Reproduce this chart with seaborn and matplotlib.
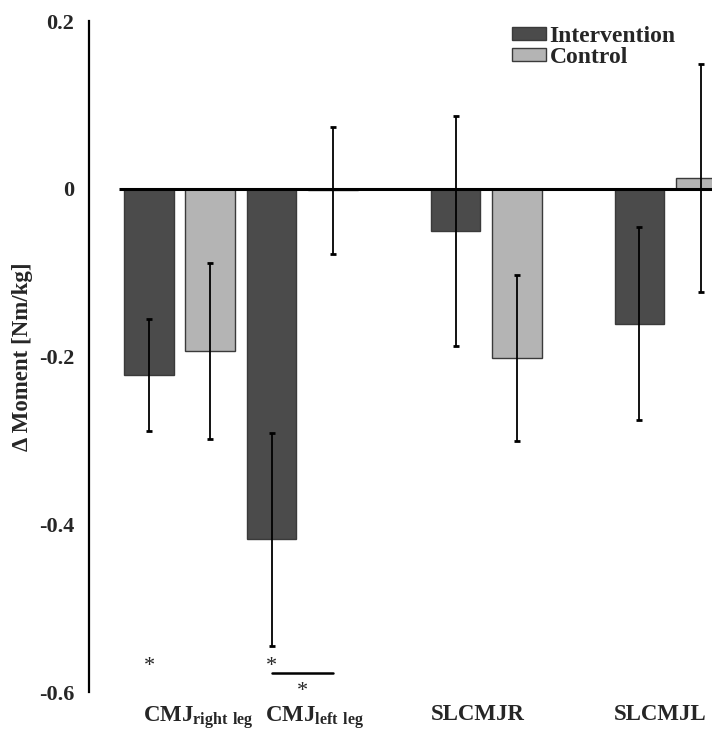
import numpy as np
import pandas as pd
import seaborn as sns
import matplotlib
matplotlib.use('Agg')
import matplotlib.pyplot as plt

# Data
categories = ['CMJ right leg', 'CMJ left leg', 'SLCMJR', 'SLCMJL']
tick_labels = ['CMJ$_{\\mathbf{right\\ leg}}$', 'CMJ$_{\\mathbf{left\\ leg}}$', 'SLCMJR', 'SLCMJL']
groups = ['Intervention', 'Control']
intervention_mean = [-0.222, -0.418, -0.050, -0.161]
intervention_sd = [0.067, 0.127, 0.137, 0.115]
control_mean = [-0.193, -0.002, -0.202, 0.013]
control_sd = [0.105, 0.076, 0.099, 0.136]
y_ticks = [0.2, 0.0, -0.2, -0.4, -0.6]
y_tick_labels = ['0.2', '0', '-0.2', '-0.4', '-0.6']

# layout: CMJ pairs sit closer together than the single-leg jumps
group_pos = [0, 2, 5, 8]
label_pos = [0.31, 2.2, 4.87, 7.84]

sns.set_style('white')
plt.rcParams['font.family'] = ['Liberation Serif', 'DejaVu Serif']
plt.rcParams['font.weight'] = 'bold'
plt.rcParams['mathtext.fontset'] = 'custom'
plt.rcParams['mathtext.bf'] = 'Liberation Serif:bold'
plt.rcParams['mathtext.rm'] = 'Liberation Serif:bold'

df = pd.DataFrame({
    'pos': group_pos * 2,
    'category': categories * 2,
    'group': [groups[0]] * 4 + [groups[1]] * 4,
    'mean': intervention_mean + control_mean,
    'sd': intervention_sd + control_sd,
})

fig = plt.figure(figsize=(7.12, 7.32), dpi=100)
ax = fig.add_axes([89 / 712, 1 - 692 / 732, 1 - 89 / 712, 671 / 732])

sns.barplot(data=df, x='pos', y='mean', hue='group', hue_order=groups,
            palette=['#4b4b4b', '#b4b4b4'], native_scale=True, width=1.0, gap=0.19,
            errorbar=None, edgecolor='#3a3a3a', linewidth=1.0, ax=ax)

# error bars (SD)
offsets = {'Intervention': -0.5, 'Control': 0.5}
ex = df['pos'] + df['group'].map(offsets)
ax.errorbar(ex, df['mean'], yerr=df['sd'], fmt='none', ecolor='black',
            elinewidth=1.3, capsize=2.4, capthick=2.0, zorder=4)

# zero line
ax.hlines(0, -0.99, 9.5, color='black', lw=2.2, zorder=3)

# significance marks
ax.text(-0.5, -0.5747, '*', ha='center', va='baseline', fontsize=16, fontweight='normal')
ax.text(1.5, -0.5747, '*', ha='center', va='baseline', fontsize=16, fontweight='normal')
ax.plot([1.5, 2.5], [-0.577, -0.577], color='black', lw=1.8, clip_on=False)
ax.text(2.0, -0.6048, '*', ha='center', va='baseline', fontsize=16, fontweight='normal')

ax.set_xlim(-1.479, 8.684)
ax.set_ylim(-0.6, 0.2)
ax.set_yticks(y_ticks)
ax.set_yticklabels(y_tick_labels)
ax.set_xticks(label_pos)
ax.set_xticklabels(tick_labels)
ax.tick_params(axis='y', direction='in', length=5, width=1.6, pad=10.5, labelsize=16)
ax.tick_params(axis='x', length=0, pad=9, labelsize=16.5)
ax.set_xlabel('')
ax.set_ylabel('\u0394 Moment [Nm/kg]', fontsize=16.5, fontweight='bold')
ax.yaxis.set_label_coords(-0.09, 0.5)

for s in ['top', 'right', 'bottom']:
    ax.spines[s].set_visible(False)
ax.spines['left'].set_linewidth(1.6)
ax.spines['left'].set_color('black')

sns.move_legend(ax, 'upper left', bbox_to_anchor=(0.6785, 0.993), frameon=False,
                title=None, fontsize=17, handlelength=1.45, handleheight=0.5,
                handletextpad=0.15, labelspacing=0.0, borderpad=0, borderaxespad=0)

fig.savefig('out.png', dpi=100)
